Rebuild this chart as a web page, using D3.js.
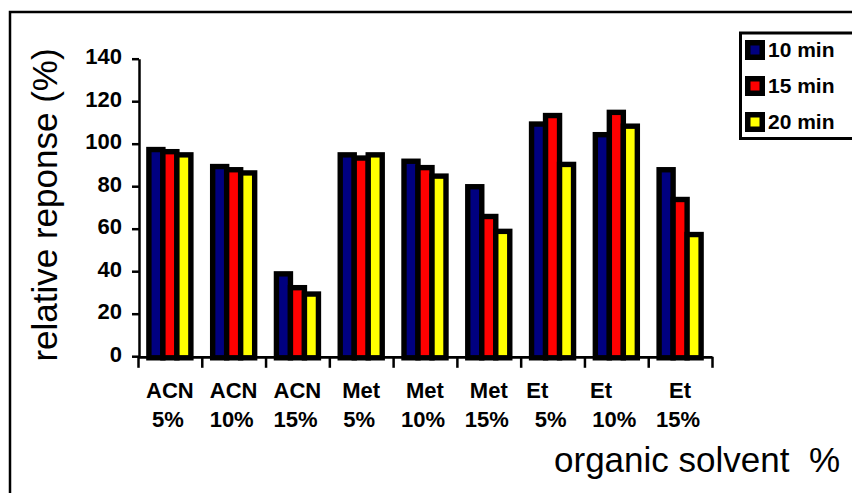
<!DOCTYPE html>
<html>
<head>
<meta charset="utf-8">
<script src="https://cdn.jsdelivr.net/npm/d3@7"></script>
<style>
  body { margin: 0; background: #fff; }
  svg { display: block; font-family: "Liberation Sans", Arial, sans-serif; }
</style>
</head>
<body>
<svg id="chart" width="852" height="493"></svg>
<script>
'use strict';

/* Data */

var categories = ["ACN 5%", "ACN 10%", "ACN 15%", "Met 5%", "Met 10%", "Met 15%", "Et 5%", "Et 10%", "Et 15%"];
// the two text lines of each category label (Et labels carry trailing spaces like the original)
var labelTop = ["ACN", "ACN", "ACN", "Met", "Met", "Met", "Et\u00a0\u00a0\u00a0\u00a0\u00a0", "Et\u00a0\u00a0\u00a0\u00a0\u00a0", "Et"];
var labelBottom = ["5%", "10%", "15%", "5%", "10%", "15%", "5%", "10%", "15%"];

var series = ["10 min", "15 min", "20 min"];
var values10 = [98, 90, 39.5, 95.5, 92.5, 80.5, 110, 105, 88.5];
var values15 = [97, 88.5, 33, 94, 89.5, 66.5, 114, 115.5, 74.5];
var values20 = [95.5, 87, 30, 95.5, 85.5, 59.5, 91, 109, 58];
var seriesColors = ["#000080", "#ff0000", "#ffff00"];

var yTicks = [0, 20, 40, 60, 80, 100, 120, 140];

/* Layout */

var svg = d3.select("#chart");
var plot = { left: 138, right: 712, top: 58.7, bottom: 356.2 };

var x0 = d3.scaleBand().domain(categories).range([plot.left, plot.right]).padding(0);
var x1 = d3.scaleBand().domain(series)
    .range([x0.bandwidth() / 2 - 21, x0.bandwidth() / 2 + 21]).padding(0);
var y = d3.scaleLinear().domain([0, 140]).range([plot.bottom, plot.top]);
var color = d3.scaleOrdinal().domain(series).range(seriesColors);

// outer frame (runs off the right and bottom of the picture)
svg.append("rect")
    .attr("x", 10).attr("y", 12)
    .attr("width", 860).attr("height", 500)
    .attr("fill", "none").attr("stroke", "#000").attr("stroke-width", 2.5);

/* Bars */

var rows = categories.map(function (c, i) {
    return { cat: c, vals: [values10[i], values15[i], values20[i]] };
});

var groups = svg.append("g")
    .attr("transform", "translate(0,1.6)")
    .selectAll("g.grp")
    .data(rows)
    .enter().append("g")
    .attr("class", "grp")
    .attr("transform", function (d) { return "translate(" + x0(d.cat) + ",0)"; });

groups.selectAll("rect")
    .data(function (d) {
        return series.map(function (s, k) { return { s: s, v: d.vals[k] }; });
    })
    .enter().append("rect")
    .attr("x", function (d) { return x1(d.s); })
    .attr("y", function (d) { return y(d.v); })
    .attr("width", x1.bandwidth())
    .attr("height", function (d) { return y(0) - y(d.v); })
    .attr("fill", function (d) { return color(d.s); })
    .attr("stroke", "#000")
    .attr("stroke-width", 5.4);

/* Axes */

var yAxis = d3.axisLeft(y).tickValues(yTicks).tickSize(7).tickSizeOuter(0).tickPadding(10);
var gy = svg.append("g")
    .attr("transform", "translate(" + (plot.left + 1) + ",0)")
    .call(yAxis);
gy.select(".domain").attr("stroke-width", 2.5);
gy.selectAll(".tick line").attr("stroke-width", 2.5);
gy.selectAll(".tick text")
    .attr("font-size", 22).attr("font-weight", "bold")
    .attr("font-family", "Liberation Sans, Arial, sans-serif")
    .attr("fill", "#000").attr("dy", "0.24em");

// category boundary ticks
var xEdge = d3.scaleLinear().domain([0, categories.length]).range([plot.left, plot.right]);
var xAxis = d3.axisBottom(xEdge).ticks(categories.length).tickSize(11).tickSizeOuter(0).tickFormat("");
var gx = svg.append("g")
    .attr("transform", "translate(0," + (plot.bottom + 0.6) + ")")
    .call(xAxis);
gx.select(".domain").attr("stroke-width", 2.8);
gx.selectAll(".tick line").attr("stroke-width", 2.5);

// category labels
var labels = svg.append("g")
    .attr("font-size", 22).attr("font-weight", "bold")
    .attr("text-anchor", "middle");
labels.selectAll("text.top")
    .data(categories)
    .enter().append("text")
    .attr("class", "top")
    .attr("x", function (d) { return x0(d) + x0.bandwidth() / 2; })
    .attr("y", 398)
    .text(function (d, i) { return labelTop[i]; });
labels.selectAll("text.bot")
    .data(categories)
    .enter().append("text")
    .attr("class", "bot")
    .attr("x", function (d) { return x0(d) + x0.bandwidth() / 2 - 2; })
    .attr("y", 427)
    .text(function (d, i) { return labelBottom[i]; });

/* Titles */

svg.append("text")
    .attr("transform", "translate(57,205) rotate(-90)")
    .attr("text-anchor", "middle")
    .attr("font-size", 35)
    .text("relative reponse (%)");

svg.append("text")
    .attr("x", 840).attr("y", 472)
    .attr("text-anchor", "end")
    .attr("font-size", 35)
    .style("white-space", "pre")
    .text("organic solvent  %");

/* Legend */

var legend = svg.append("g");
legend.append("rect")
    .attr("x", 740.5).attr("y", 33)
    .attr("width", 130).attr("height", 105.5)
    .attr("fill", "#fff").attr("stroke", "#000").attr("stroke-width", 3);

var legendY = d3.scalePoint().domain(series).range([50, 122]);
var items = legend.selectAll("g.item")
    .data(series)
    .enter().append("g")
    .attr("class", "item")
    .attr("transform", function (d) { return "translate(755," + legendY(d) + ")"; });
items.append("rect")
    .attr("x", -7.25).attr("y", -7.25)
    .attr("width", 14.5).attr("height", 14.5)
    .attr("fill", function (d) { return color(d); })
    .attr("stroke", "#000").attr("stroke-width", 5.5);
items.append("text")
    .attr("x", 13).attr("y", 7)
    .attr("font-size", 21).attr("font-weight", "bold")
    .text(function (d) { return d; });
</script>
</body>
</html>
